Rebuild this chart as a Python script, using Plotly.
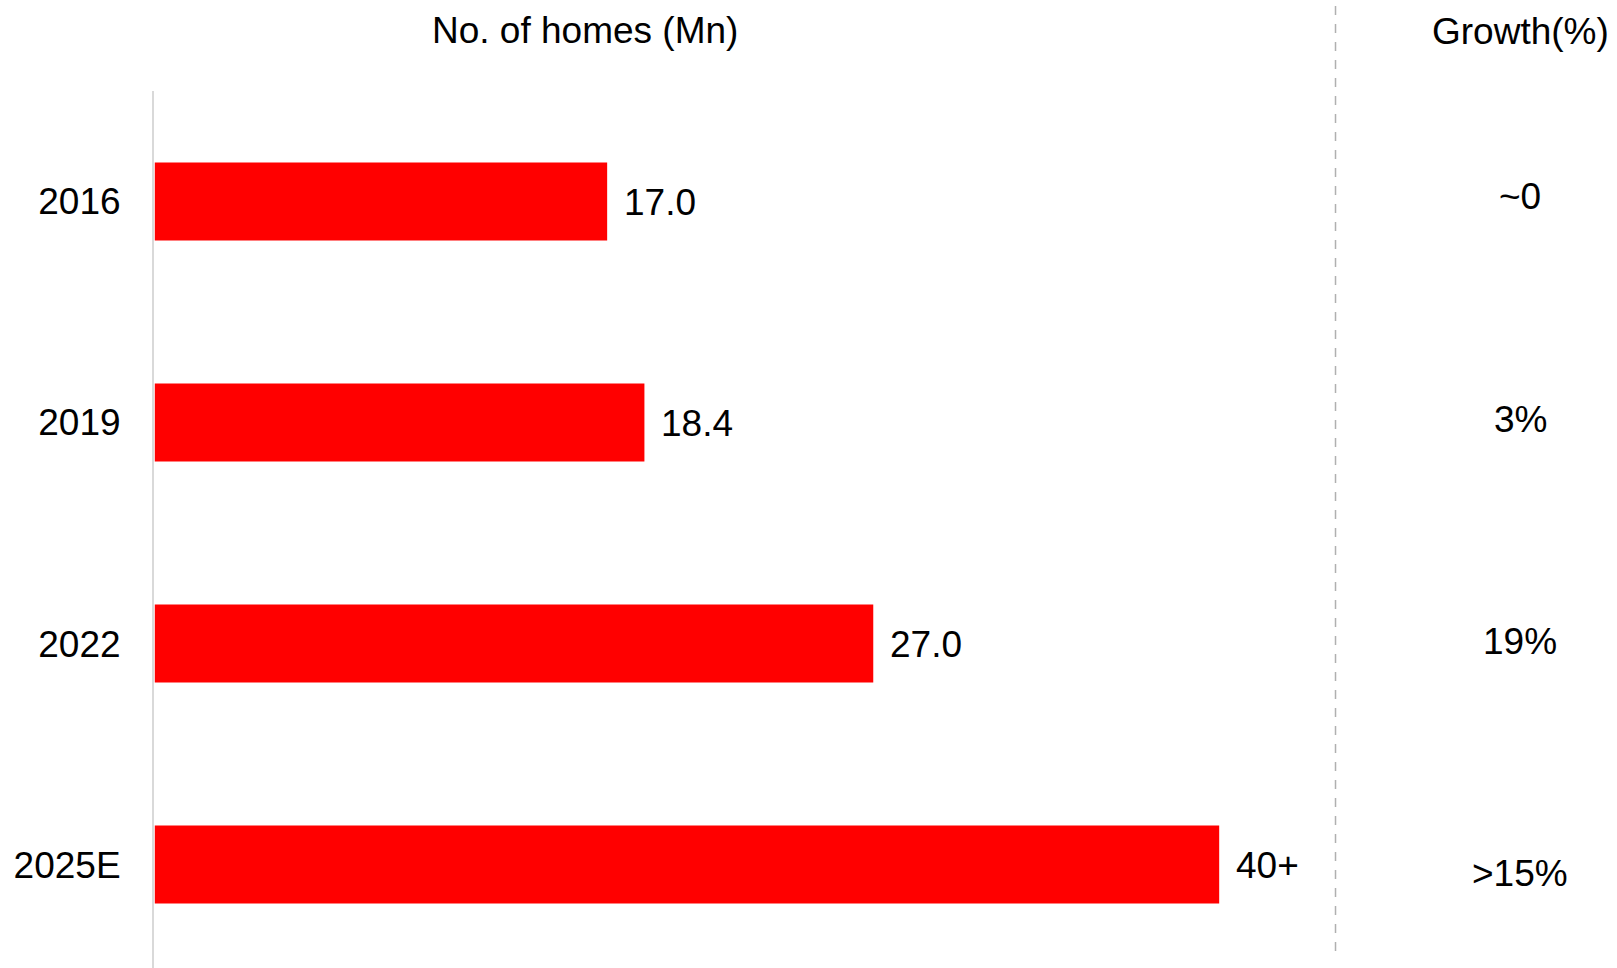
import plotly.graph_objects as go

years = ["2016", "2019", "2022", "2025E"]
homes = [17.0, 18.4, 27.0, 40.0]
home_labels = ["17.0", "18.4", "27.0", "40+"]
growth_labels = ["~0", "3%", "19%", ">15%"]
growth_shift = [5, 3, 2, -9]

FONT = "Liberation Sans, Arial, sans-serif"
FS = 37
ypos = list(range(len(years)))

fig = go.Figure()
fig.add_trace(go.Bar(
    y=ypos, x=homes, orientation="h",
    marker=dict(color="#ff0000", line=dict(width=0)),
    width=0.353, hoverinfo="skip",
))

annotations = []
for yi, v, lab in zip(ypos, homes, home_labels):
    annotations.append(dict(x=v, y=yi, xref="x", yref="y", text=lab,
                            showarrow=False, xanchor="left", yanchor="middle",
                            xshift=15, yshift=-1,
                            font=dict(family=FONT, size=FS, color="#000")))
for yi, lab, sh in zip(ypos, growth_labels, growth_shift):
    annotations.append(dict(x=0.9337, y=yi, xref="paper", yref="y", text=lab,
                            showarrow=False, xanchor="center", yanchor="middle",
                            yshift=sh, font=dict(family=FONT, size=FS, color="#000")))
annotations.append(dict(x=0.2946, y=1.0695, xref="paper", yref="paper",
                        text="No. of homes (Mn)", showarrow=False,
                        xanchor="center", yanchor="middle",
                        font=dict(family=FONT, size=FS, color="#000")))
annotations.append(dict(x=0.9337, y=1.068, xref="paper", yref="paper",
                        text="Growth(%)", showarrow=False,
                        xanchor="center", yanchor="middle",
                        font=dict(family=FONT, size=FS, color="#000")))

fig.update_layout(
    width=1617, height=968,
    margin=dict(l=154, r=0, t=91, b=0),
    paper_bgcolor="white", plot_bgcolor="white",
    showlegend=False,
    font=dict(family=FONT, size=FS, color="#000"),
    xaxis=dict(range=[-0.03, 54.95], visible=False, fixedrange=True),
    yaxis=dict(range=[3.468, -0.5], tickvals=ypos, ticktext=years,
               showline=True, linecolor="#d9d9d9", linewidth=2,
               showgrid=False, zeroline=False,
               ticks="outside", ticklen=24, tickcolor="rgba(0,0,0,0)",
               tickfont=dict(family=FONT, size=FS, color="#000")),
    annotations=annotations,
    shapes=[dict(type="line", xref="paper", yref="paper",
                 x0=0.8076, x1=0.8076, y0=0.0194, y1=1.1038,
                 line=dict(color="#b0b0b0", width=1.5, dash="dash"))],
)

fig.write_html("out.html")
